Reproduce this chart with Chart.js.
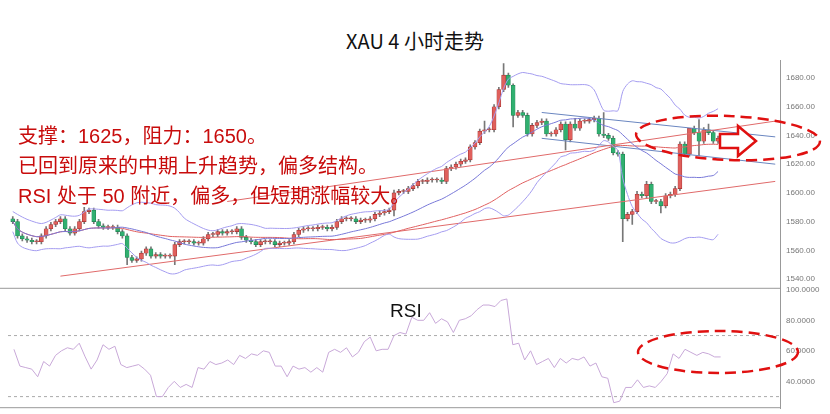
<!DOCTYPE html>
<html><head><meta charset="utf-8">
<script src="https://cdn.jsdelivr.net/npm/chart.js@4.4.1/dist/chart.umd.min.js"></script>
<style>
body{margin:0;background:#fff;width:830px;height:414px;overflow:hidden;position:relative;font-family:"Noto Sans CJK SC",sans-serif}
#title{position:absolute;top:26px;width:830px;text-align:center;font-size:20px;color:#111}
.note{position:absolute;left:18px;font-size:20px;color:#c80c0c;white-space:nowrap;font-family:"Liberation Sans","Noto Sans CJK SC",sans-serif}
#rsiLbl{position:absolute;left:390px;top:300px;font-size:19px;font-family:"Liberation Sans",sans-serif;color:#111}
.box{position:absolute;left:0;width:830px}
</style></head>
<body>
<div id="title">XAU 4 小时走势</div>
<div class="box" style="top:53px;height:241px"><canvas id="main"></canvas></div>
<div class="box" style="top:280px;height:136px"><canvas id="rsi"></canvas></div>
<div class="note" style="top:120px">支撑：1625，阻力：1650。</div>
<div class="note" style="top:150px">已回到原来的中期上升趋势，偏多结构。</div>
<div class="note" style="top:180px">RSI 处于 50 附近，偏多，但短期涨幅较大。</div>
<div id="rsiLbl">RSI</div>
<script>
const closes = [1580,1570,1568,1567,1566,1566,1570,1575,1578,1580,1582,1575,1572,1575,1580,1587,1588,1580,1577,1576,
1576,1576,1573,1570,1555,1553,1554,1558,1561,1556,1557,1556,1556,1556,1564,1566,1566,1566,1565,1565,
1568,1571,1571,1573,1572,1573,1573,1575,1569,1567,1566,1564,1566,1566,1566,1564,1565,1565,1566,1571,
1574,1575,1575,1575,1576,1576,1575,1576,1580,1582,1582,1582,1580,1581,1581,1582,1585,1586,1587,1588,
1600,1601,1601,1603,1605,1608,1608,1609,1609,1609,1608,1617,1618,1620,1622,1623,1632,1635,1643,1644,
1644,1660,1672,1682,1675,1654,1656,1654,1641,1647,1649,1650,1641,1641,1644,1648,1637,1648,1645,1650,
1650,1651,1652,1641,1640,1638,1628,1627,1582,1585,1587,1599,1598,1606,1594,1594,1591,1598,1599,1603,
1634,1627,1645,1642,1636,1644,1642,1636,1638];
const firstOpen = 1582;
// notable wick extremes, by candle index
const wickHighs = {15:1590,80:1602,99:1650,103:1690,105:1676,118:1652,124:1656,131:1601,133:1608,142:1634,144:1651,146:1648};
const wickLows = {24:1550,34:1550,80:1584,105:1646,116:1630,128:1566,130:1578,136:1586,144:1626};
const rsi = [61,50,49,48,43,53,50,57,60,62,61,65,56,48,54,64,61,63,51,49,50,51,48,44,30,30,36,40,36,38,36,49,48,53,51,52,54,51,57,55,
58,57,60,59,50,50,43,50,48,49,46,49,46,59,61,59,62,56,59,66,69,60,61,61,70,72,71,82,80,80,85,78,81,79,72,80,81,83,87,90,
90,89,93,94,64,65,54,60,51,53,55,49,55,52,55,54,56,50,52,43,42,26,27,36,36,41,36,37,36,40,45,58,55,61,59,57,59,58,56,56];
const priceTicks = [1540,1560,1580,1600,1620,1640,1660,1680];
const rsiTicks = [40,60,80,100];
const redLine = [[10,1542],[160,1608]];
const redUpper = [[45,1594],[160,1650]];
const chanTop = [[111,1656],[160,1639]];
const chanBot = [[111,1638],[160,1620]];

const N = closes.length, PADR = 12;
const opens = closes.map((c,i)=> i===0 ? firstOpen : closes[i-1]);
const bodies = [], wicks = [];
closes.forEach((c,i)=>{
  const o = opens[i];
  const hi = wickHighs[i] ?? Math.max(o,c)+1.5;
  const lo = wickLows[i] ?? Math.min(o,c)-1.5;
  bodies.push({x:i,y:[Math.min(o,c),Math.max(o,c)+ (o===c?0.6:0)]});
  wicks.push({x:i,y:[lo,hi]});
});
function sma(arr,p,i){const s=arr.slice(Math.max(0,i-p+1),i+1);return s.reduce((a,b)=>a+b,0)/s.length;}
const mid=[],up=[],dn=[],ma=[];
closes.forEach((c,i)=>{
  const s=closes.slice(Math.max(0,i-19),i+1), m=s.reduce((a,b)=>a+b,0)/s.length;
  const sd=Math.sqrt(s.reduce((a,b)=>a+(b-m)*(b-m),0)/s.length)||3;
  mid.push({x:i,y:m});up.push({x:i,y:m+2*Math.max(sd,3.5)});dn.push({x:i,y:m-2*Math.max(sd,3.5)});
  ma.push({x:i,y:sma(closes,50,i)});
});
const pts = a=>a.map(p=>({x:p[0],y:p[1]}));
const lineDs=(data,color,w)=>({type:'line',data,borderColor:color,borderWidth:w||1,pointRadius:0,tension:0.3,fill:false});

const overlay = {
  id:'overlay',
  afterDatasetsDraw(chart){
    const c=chart.ctx, id=chart.canvas.id;
    c.save();
    c.strokeStyle='#e01010';c.lineWidth=2.5;c.setLineDash([11,6]);
    c.beginPath();
    if(id==='main') c.ellipse(728,85,92,22,0.04,0,Math.PI*2);
    else c.ellipse(718,72,80,21,0,0,Math.PI*2);
    c.stroke();
    if(id==='main'){
      c.setLineDash([]);c.lineWidth=2.5;c.fillStyle='#fff';
      c.beginPath();
      c.moveTo(720,81);c.lineTo(738,81);c.lineTo(738,73);c.lineTo(756,88);c.lineTo(738,103);c.lineTo(738,95);c.lineTo(720,95);c.closePath();
      c.fill();c.stroke();
    }
    c.restore();
  }
};

const yAxis = (min,max,ticks,dec)=>({position:'right',min,max,
  afterBuildTicks:ax=>{ax.ticks=ticks.map(v=>({value:v}));},
  grid:{display:false,drawTicks:true,tickLength:3,tickColor:'#999'},border:{color:'#999'},
  ticks:{color:'#777',font:{size:8,family:'Liberation Sans'},padding:3,callback:v=>v.toFixed(dec)},afterFit:ax=>{ax.width=50;}});

new Chart(document.getElementById('main'),{
  type:'bar',
  data:{datasets:[
    lineDs(up,'#a49cf0'),lineDs(dn,'#a49cf0'),lineDs(mid,'#7878d8'),lineDs(ma,'#e06060'),
    {...lineDs(pts(redLine),'#e06a6a'),tension:0},{...lineDs(pts(redUpper),'#e06a6a'),tension:0},
    {...lineDs(pts(chanTop),'#6a86c0'),tension:0},{...lineDs(pts(chanBot),'#6a86c0'),tension:0},
    {data:wicks,backgroundColor:'#777',barThickness:1,grouped:false,order:2},
    {data:bodies,backgroundColor:bodies.map((b,i)=>closes[i]>=opens[i]?'#e0605c':'#30b070'),
     borderColor:bodies.map((b,i)=>closes[i]>=opens[i]?'#a03030':'#208050'),borderWidth:0.6,borderSkipped:false,barThickness:4,grouped:false,order:1}
  ]},
  options:{animation:false,responsive:true,maintainAspectRatio:false,
    layout:{padding:{left:8,right:0,top:0,bottom:0}},
    plugins:{legend:{display:false},tooltip:{enabled:false}},
    scales:{x:{type:'linear',offset:false,min:-1,max:N+PADR,display:false},
      y:yAxis(1535,1692,priceTicks,2)}},
  plugins:[overlay]
});

const R=rsi.length, RP=9;
new Chart(document.getElementById('rsi'),{
  type:'line',
  data:{datasets:[
    {data:rsi.map((v,i)=>({x:i,y:v})),borderColor:'#c8a8d8',borderWidth:1,pointRadius:0},
    {data:[{x:-1,y:70},{x:R+RP,y:70}],borderColor:'#aaa',borderWidth:1,borderDash:[3,3],pointRadius:0},
    {data:[{x:-1,y:30},{x:R+RP,y:30}],borderColor:'#aaa',borderWidth:1,borderDash:[3,3],pointRadius:0}
  ]},
  options:{animation:false,responsive:true,maintainAspectRatio:false,
    layout:{padding:{left:8,right:0,top:0,bottom:0}},
    plugins:{legend:{display:false},tooltip:{enabled:false}},
    scales:{x:{type:'linear',offset:false,min:-1,max:R+RP,display:false},
      y:yAxis(22.4,101.3,rsiTicks,4)}},
  plugins:[overlay,{id:'frame',beforeDraw(ch){const c=ch.ctx,a=ch.chartArea;c.save();c.strokeStyle='#999';c.beginPath();c.moveTo(0,a.top+0.5);c.lineTo(a.right,a.top+0.5);c.moveTo(0,a.bottom-0.5);c.lineTo(a.right,a.bottom-0.5);c.stroke();c.restore();}}]
});
</script>
</body></html>
